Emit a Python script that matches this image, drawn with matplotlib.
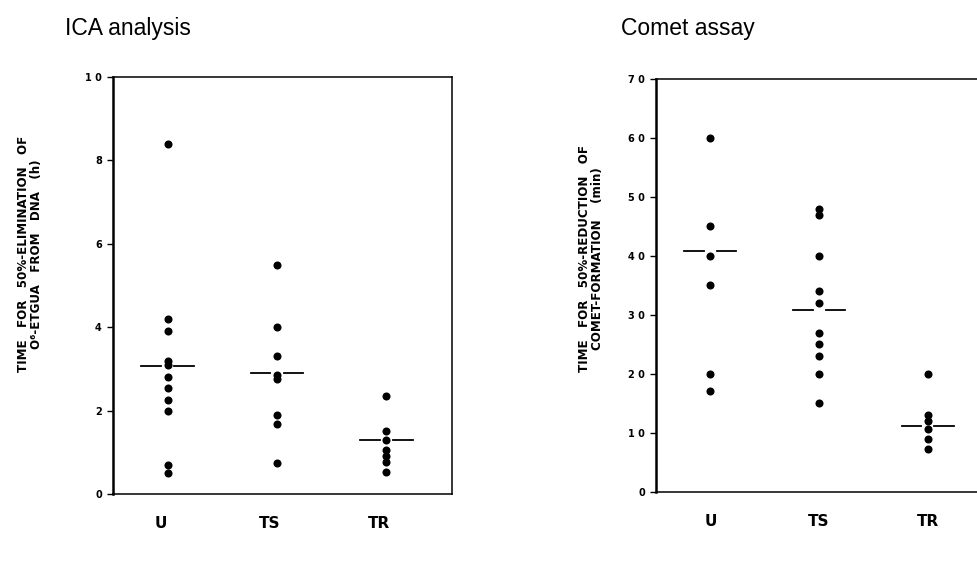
import numpy as np
import matplotlib
matplotlib.use('Agg')
import matplotlib.pyplot as plt
import matplotlib.transforms as mtransforms

# --- Data ---

groups = ['U', 'TS', 'TR']

# ICA analysis: time for 50% elimination of O6-EtGua from DNA (h)
ica_u = [8.4, 4.2, 3.9, 3.2, 3.1, 2.8, 2.55, 2.25, 2.0, 0.7, 0.5]
ica_ts = [5.5, 4.0, 3.3, 2.85, 2.75, 1.9, 1.67, 0.75]
ica_tr = [2.35, 1.5, 1.3, 1.05, 0.9, 0.77, 0.53]
ica_mean = [3.07, 2.9, 1.3]
ica_ticks = [0, 2, 4, 6, 8, 10]

# Comet assay: time for 50% reduction of comet formation (min)
comet_u = [60, 45, 40, 35, 20, 17]
comet_ts = [48, 47, 40, 34, 32, 27, 25, 23, 20, 15]
comet_tr = [20, 13, 12, 10.6, 8.9, 7.3]
comet_mean = [40.8, 30.8, 11.1]
comet_ticks = [0, 10, 20, 30, 40, 50, 60, 70]

title_font = ['Liberation Sans Narrow', 'Liberation Sans', 'DejaVu Sans']


def spaced(v):
    return ' '.join(str(v))


def draw_panel(ax, series, means, ticks, ymax, ylabel):
    for i, vals in enumerate(series):
        ax.plot(np.full(len(vals), i), vals, 'o', color='black',
                markersize=5.8, markeredgewidth=0, zorder=3)
    # mean bars with a gap round the dots
    for i, m in enumerate(means):
        ax.plot([i - 0.24, i - 0.06], [m, m], color='black', lw=1.3)
        ax.plot([i + 0.06, i + 0.24], [m, m], color='black', lw=1.3)

    ax.set_xlim(-0.5, 2.6)
    ax.set_ylim(0, ymax)
    ax.set_yticks(ticks)
    ax.set_yticklabels([spaced(t) for t in ticks], fontsize=7,
                       fontweight='bold')
    ax.tick_params(axis='y', direction='out', length=4, width=1, pad=4)
    ax.set_xticks(range(len(groups)))
    ax.set_xticklabels(groups, fontsize=11, fontweight='bold')
    ax.tick_params(axis='x', length=0, pad=16)

    ax.spines['left'].set_linewidth(1.8)
    for s in ('top', 'bottom', 'right'):
        ax.spines[s].set_linewidth(1.1)

    ax.set_ylabel(ylabel, fontsize=8.6, fontweight='bold', linespacing=1.0)


fig = plt.figure(figsize=(9.78, 5.62), dpi=100)

ax1 = fig.add_axes([0.1155, 0.121, 0.3466, 0.742])
draw_panel(ax1, [ica_u, ica_ts, ica_tr], ica_mean, ica_ticks, 10,
           'TIME   FOR   50%-ELIMINATION   OF\nO\u2076-ETGUA   FROM   DNA   (h)')
ax1.yaxis.set_label_coords(-0.205, 0.575)
# group labels of the left panel sit a little left of the dot columns
shift = mtransforms.ScaledTranslation(-7 / 100, 0, fig.dpi_scale_trans)
for lab in ax1.get_xticklabels():
    lab.set_transform(lab.get_transform() + shift)

ax2 = fig.add_axes([0.6708, 0.1251, 0.3446, 0.7343])
draw_panel(ax2, [comet_u, comet_ts, comet_tr], comet_mean, comet_ticks, 70,
           'TIME   FOR   50%-REDUCTION   OF\nCOMET-FORMATION    (min)')
ax2.yaxis.set_label_coords(-0.155, 0.565)

fig.text(0.066, 0.938, 'ICA analysis', fontsize=16.5, family=title_font,
         va='baseline', ha='left')
fig.text(0.635, 0.938, 'Comet assay', fontsize=16.5, family=title_font,
         va='baseline', ha='left')

fig.savefig('out.png', dpi=100)
